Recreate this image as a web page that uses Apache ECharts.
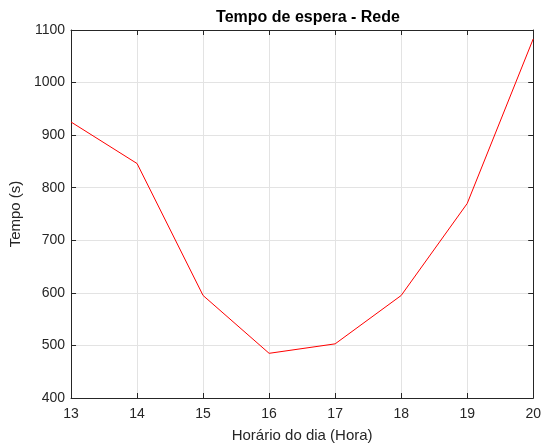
<!DOCTYPE html>
<html>
<head>
<meta charset="utf-8">
<script src="https://cdn.jsdelivr.net/npm/echarts@6/dist/echarts.min.js"></script>
<style>
  html, body { margin: 0; padding: 0; background: #fff; }
  #chart { width: 544px; height: 448px; }
</style>
</head>
<body>
<div id="chart"></div>
<script>
// Horas do dia e tempo de espera medido na rede
const hours = [13, 14, 15, 16, 17, 18, 19, 20];
const waitTimes = [925, 846, 595, 485, 503, 595, 770, 1083];
const yTicks = [400, 500, 600, 700, 800, 900, 1000, 1100];

const axisColor = '#262626';
const gridColor = '#e3e3e3';
const font = 'Liberation Sans, Arial, Helvetica, sans-serif';

const chart = echarts.init(document.getElementById('chart'), null, { renderer: 'canvas' });

const baseX = {
  type: 'value', min: 13, max: 20, interval: 1,
  axisLine: { show: true, lineStyle: { color: axisColor, width: 1 } },
  axisTick: { show: true, inside: true, length: 5, lineStyle: { color: axisColor } },
  splitLine: { show: false }
};
const baseY = {
  type: 'value', min: yTicks[0], max: yTicks[yTicks.length - 1], interval: 100,
  axisLine: { show: true, lineStyle: { color: axisColor, width: 1 } },
  axisTick: { show: true, inside: true, length: 5, lineStyle: { color: axisColor } },
  splitLine: { show: false }
};

chart.setOption({
  animation: false,
  backgroundColor: '#ffffff',
  title: {
    text: 'Tempo de espera - Rede',
    left: 303, top: 5, textAlign: 'center',
    textStyle: { fontFamily: font, fontSize: 16, fontWeight: 'bold', color: '#000' }
  },
  grid: { left: 69, right: 7, top: 30, bottom: 48, containLabel: false },
  xAxis: [
    Object.assign({}, baseX, {
      position: 'bottom',
      name: 'Horário do dia (Hora)', nameLocation: 'middle', nameGap: 30,
      nameTextStyle: { fontFamily: font, fontSize: 15, color: axisColor },
      axisLabel: { show: true, margin: 9, fontFamily: font, fontSize: 14, color: axisColor,
                   formatter: v => String(v) },
      splitLine: { show: true, lineStyle: { color: gridColor, width: 1 } }
    }),
    Object.assign({}, baseX, { position: 'top', axisLabel: { show: false } })
  ],
  yAxis: [
    Object.assign({}, baseY, {
      position: 'left',
      name: 'Tempo (s)', nameLocation: 'middle', nameGap: 43, nameRotate: 90,
      nameTextStyle: { fontFamily: font, fontSize: 15, color: axisColor },
      axisLabel: { show: true, margin: 6, fontFamily: font, fontSize: 14, color: axisColor,
                   formatter: v => String(v) },
      splitLine: { show: true, lineStyle: { color: gridColor, width: 1 } }
    }),
    Object.assign({}, baseY, { position: 'right', axisLabel: { show: false } })
  ],
  series: [{
    type: 'line',
    xAxisIndex: 0, yAxisIndex: 0,
    data: hours.map((h, i) => [h, waitTimes[i]]),
    showSymbol: false,
    lineStyle: { color: '#ff0000', width: 1 },
    itemStyle: { color: '#ff0000' }
  }]
});
</script>
</body>
</html>
